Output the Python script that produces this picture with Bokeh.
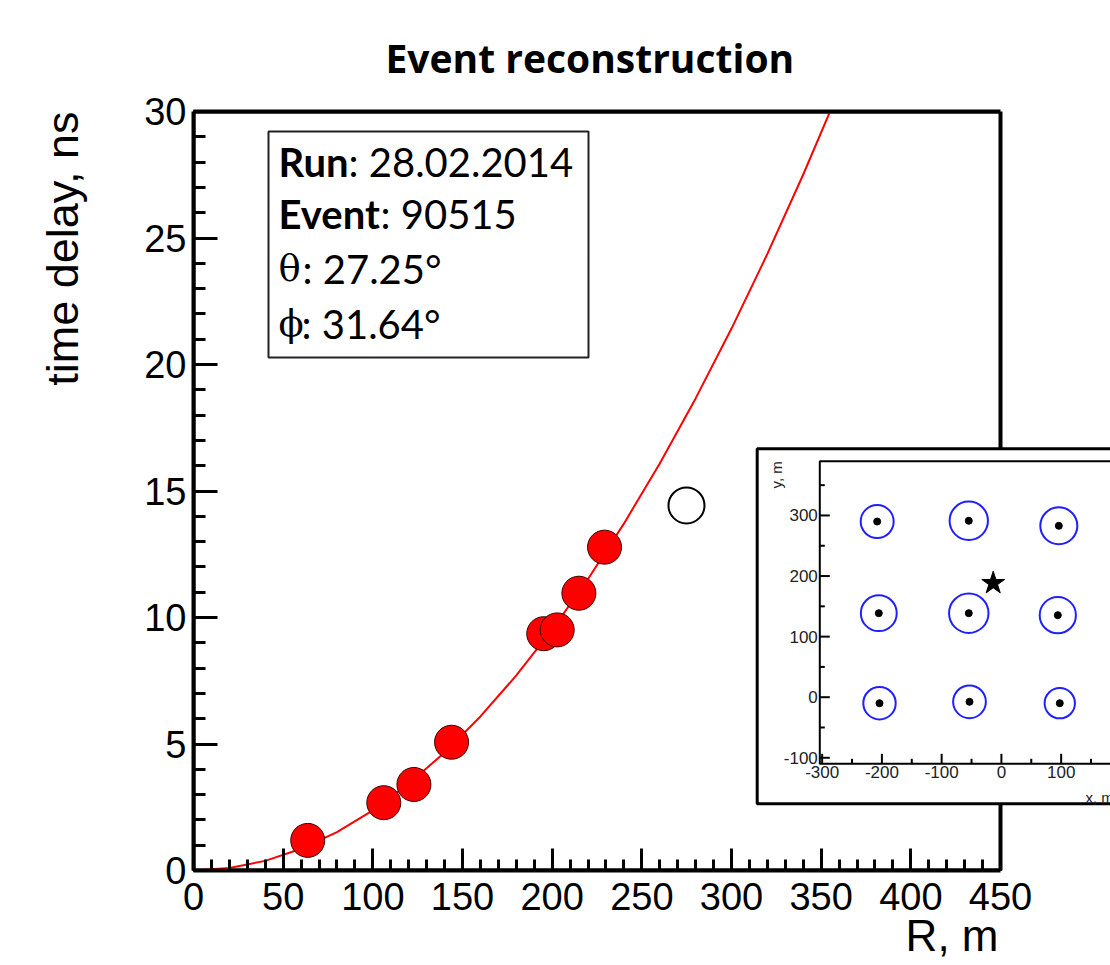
import math
from bokeh.plotting import figure
from bokeh.models import Range1d, SingleIntervalTicker, FixedTicker, LinearAxis, Title
from bokeh.core.properties import value
from bokeh.embed import file_html
from bokeh.resources import INLINE

# ---------------- data (main panel) ----------------
R_M = [63.7, 106.1, 122.9, 143.9, 195.3, 202.8, 214.9, 229.2]
T_NS = [1.19, 2.68, 3.40, 5.07, 9.36, 9.51, 10.96, 12.78]
R_EXCL = [274.9]
T_EXCL = [14.43]
FIT_R = [0, 20, 40, 60, 80, 100, 120, 140, 160, 180, 200, 220, 240, 260, 280, 300, 320, 340, 360]
FIT_T = [0.0, 0.10, 0.38, 0.86, 1.52, 2.38, 3.43, 4.66, 6.09, 7.71, 9.52, 11.52, 13.71, 16.09,
         18.66, 21.42, 24.37, 27.51, 30.84]
X_MAX = 450
Y_MAX = 30

INFO_KEYS = ["Run", "Event", "θ", "ϕ"]
INFO_VALS = [": 28.02.2014", ": 90515", ": 27.25°", ": 31.64°"]

# ---------------- data (inset: detector map) ----------------
ST_X = [-207.9, -54.6, 96.1, -205.2, -54.6, 94.4, -204.0, -53.4, 97.7]
ST_Y = [290.0, 291.2, 282.9, 138.7, 138.7, 135.4, -9.9, -7.6, -9.9]
ST_R = [27.6, 32.1, 31.0, 30.0, 33.0, 30.3, 27.1, 27.4, 25.4]
CORE_X = [-13.7]
CORE_Y = [188.2]
INSET_XTICKS = [-300, -200, -100, 0, 100]
INSET_YTICKS = [-100, 0, 100, 200, 300]

# ---------------- layout helpers (page pixels -> coordinates) ----------------
W, H = 1110, 964
FL, FR, FT, FB = 193, W, 111, 870                  # frame edges on the page
SX = (1000 - FL) / X_MAX                           # px per metre (main)
SY = (FB - FT) / Y_MAX                             # px per ns (main)
def dx(px): return (px - FL) / SX
def dy(py): return (FB - py) / SY

IX0, ISX = 1000.9, 0.5975                          # inset x=0 position, px per m
IY0, ISY = 696.7, 0.6058
def ix(px): return (px - IX0) / ISX
def iy(py): return (IY0 - py) / ISY

p = figure(width=W, height=H, output_backend="svg", toolbar_location=None,
           x_range=Range1d(0, dx(FR)), y_range=Range1d(0, Y_MAX),
           x_axis_type=None, y_axis_type=None,
           min_border_left=FL, min_border_right=0,
           min_border_top=FT, min_border_bottom=H - FB)
p.outline_line_color = None
p.background_fill_color = "white"
p.border_fill_color = "white"
p.extra_x_ranges = {"ix": Range1d(ix(FL), ix(FR))}
p.extra_y_ranges = {"iy": Range1d(iy(FB), iy(FT))}

# title
p.title.text = "Event reconstruction"
p.title.text_font = "Open Sans"
p.title.text_font_style = "bold"
p.title.text_font_size = "39px"
p.title.align = "left"
p.title.offset = 192
p.title.standoff = 56
p.title.text_color = "black"

TICK_FONT = "Liberation Sans"

xaxis = LinearAxis(ticker=SingleIntervalTicker(interval=50, num_minor_ticks=5), bounds=(0, X_MAX))
yaxis = LinearAxis(ticker=SingleIntervalTicker(interval=5, num_minor_ticks=5))
for ax, tin, mtin in ((xaxis, 22, 11), (yaxis, 24, 12)):
    ax.axis_line_width = 4
    ax.axis_line_color = "black"
    ax.major_tick_in = tin
    ax.major_tick_out = 0
    ax.minor_tick_in = mtin
    ax.minor_tick_out = 0
    ax.major_tick_line_width = 3
    ax.minor_tick_line_width = 3
    ax.major_tick_line_color = "black"
    ax.minor_tick_line_color = "black"
    ax.major_label_text_font = TICK_FONT
    ax.major_label_text_font_size = "38px"
    ax.major_label_text_color = "black"
xaxis.major_label_standoff = 12
yaxis.major_label_standoff = 7
p.add_layout(xaxis, "below")
p.add_layout(yaxis, "left")

top_axis = LinearAxis(ticker=FixedTicker(ticks=[]), bounds=(0, X_MAX))
top_axis.axis_line_width = 4
top_axis.major_tick_in = 0
top_axis.major_tick_out = 0
top_axis.minor_tick_in = 0
top_axis.minor_tick_out = 0
top_axis.major_label_text_font_size = "0px"
top_axis.major_label_standoff = 0
p.add_layout(top_axis, "above")

# axis titles, placed at the axis ends like ROOT
p.add_layout(Title(text="time delay, ns\n", align="right", offset=0, vertical_align="bottom",
                   standoff=6, text_font=TICK_FONT, text_font_size="45px",
                   text_font_style="normal", text_color="black"), "left")
p.add_layout(Title(text="R, m", align="right", offset=W - 998, vertical_align="top",
                   standoff=-3, text_font=TICK_FONT, text_font_size="44px",
                   text_font_style="normal", text_color="black"), "below")

# right frame border
p.quad(left=[0], right=[X_MAX], bottom=[0], top=[Y_MAX], fill_color=None,
       line_color="black", line_width=4)

# fit curve and points
p.line(FIT_R, FIT_T, line_color="#ff0000", line_width=2)
p.scatter(R_M, T_NS, size=34, fill_color="#ff0000", line_color="#3a0000", line_width=1)
p.scatter(R_EXCL, T_EXCL, size=36, fill_color=None, line_color="black", line_width=2)

# info box
p.quad(left=[dx(268)], right=[dx(588)], bottom=[dy(357)], top=[dy(131)],
       fill_color="white", line_color="#222222", line_width=2)
BASE_FIX = 15
INFO_X = dx(278)
INFO_Y = [dy(176.7 - BASE_FIX), dy(228 - BASE_FIX), dy(283 - BASE_FIX), dy(338 - BASE_FIX)]
p.text(x=[INFO_X] * 2, y=INFO_Y[:2], text=INFO_KEYS[:2], text_font=value("Lato"),
       text_font_style="bold", text_font_size="40px", text_color="black",
       text_baseline="alphabetic", text_align="left")
p.text(x=[INFO_X] * 2, y=INFO_Y[2:], text=INFO_KEYS[2:], text_font=value("DejaVu Serif"),
       text_font_size="37px", text_color="black",
       text_baseline="alphabetic", text_align="left")
p.text(x=[INFO_X] * 4, y=INFO_Y, text=INFO_VALS, x_offset=[70, 102, 24, 23],
       text_font=value("Lato"), text_font_size="40px", text_color="black",
       text_baseline="alphabetic", text_align="left")

# ---------------- inset ----------------
IR = dict(x_range_name="ix", y_range_name="iy")
IXL, IYB, IYT = ix(819.3), iy(763.3), iy(460.7)
p.quad(left=[ix(756.7)], right=[ix(1140)], bottom=[iy(803.3)], top=[iy(448.3)],
       fill_color="white", line_color="black", line_width=3, **IR)
p.quad(left=[IXL], right=[ix(1140)], bottom=[IYB], top=[IYT],
       fill_color=None, line_color="black", line_width=2, **IR)
p.ray(x=[IXL] * len(INSET_YTICKS), y=INSET_YTICKS, length=10, length_units="screen",
      angle=0, line_color="black", line_width=2, **IR)
p.ray(x=[IXL] * len(INSET_YTICKS), y=[t + 50 for t in INSET_YTICKS], length=5,
      length_units="screen", angle=0, line_color="black", line_width=2, **IR)
p.ray(x=INSET_XTICKS, y=[IYB] * len(INSET_XTICKS), length=10, length_units="screen",
      angle=math.pi / 2, line_color="black", line_width=2, **IR)
p.ray(x=[t + 50 for t in INSET_XTICKS], y=[IYB] * len(INSET_XTICKS), length=5,
      length_units="screen", angle=math.pi / 2, line_color="black", line_width=2, **IR)
p.text(x=[IXL] * len(INSET_YTICKS), y=INSET_YTICKS, text=[str(t) for t in INSET_YTICKS],
       x_offset=-2, text_align="right", text_baseline="middle",
       text_font=value(TICK_FONT), text_font_size="17px", text_color="#222222", **IR)
p.text(x=INSET_XTICKS, y=[IYB] * len(INSET_XTICKS), text=[str(t) for t in INSET_XTICKS],
       y_offset=2, text_align="center", text_baseline="top",
       text_font=value(TICK_FONT), text_font_size="17px", text_color="#222222", **IR)
p.text(x=[ix(776)], y=[IYT], text=["y, m"], angle=math.pi / 2, text_align="right",
       text_baseline="alphabetic", text_font=value(TICK_FONT), text_font_size="15px",
       text_color="#222222", **IR)
p.text(x=[ix(1085)], y=[iy(797)], text=["x, m"], text_align="left",
       text_baseline="alphabetic", text_font=value(TICK_FONT), text_font_size="15px",
       text_color="#222222", **IR)

p.circle(x=ST_X, y=ST_Y, radius=ST_R, fill_color=None, line_color="#1f1fff",
         line_width=2, **IR)
p.scatter(x=ST_X, y=ST_Y, size=7, fill_color="black", line_color="black", **IR)
p.scatter(x=CORE_X, y=CORE_Y, marker="star", size=24, fill_color="black",
          line_color="black", **IR)

open("out.html", "w").write(file_html(p, INLINE))
